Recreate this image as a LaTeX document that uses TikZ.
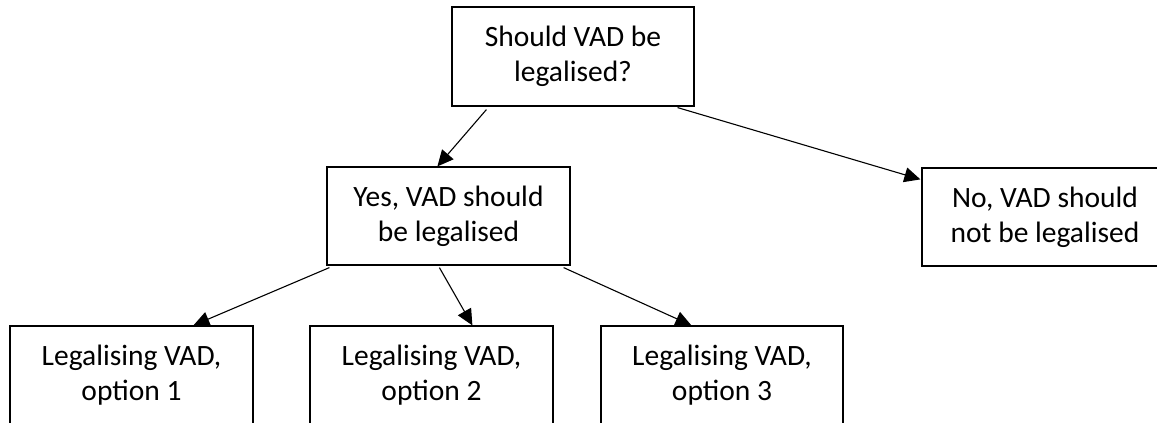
\documentclass[tikz,border=0pt]{standalone}
\usepackage{fontspec}
\setmainfont{Carlito}
\usetikzlibrary{arrows.meta}
\begin{document}
\begin{tikzpicture}[x=1pt,y=-1pt,
  box/.style={draw=black,line width=1.2pt,rectangle,inner sep=0pt,align=center,
    font=\fontsize{29.5pt}{35pt}\selectfont},
  link/.style={draw=black,line width=1.1pt,-{Triangle[length=16pt,width=15pt]}}]
\useasboundingbox (0,0) rectangle (1157,423);
\fill[white] (0,0) rectangle (1157,423);
\clip (0,0) rectangle (1157,423);
\node[box,minimum width=242pt,minimum height=99pt] (top) at (573,56.5) {Should VAD be\\legalised?};
\node[box,minimum width=243pt,minimum height=98pt] (yes) at (448.5,216) {Yes, VAD should\\be legalised};
\node[box,minimum width=246pt,minimum height=98pt] (no) at (1045,217) {No, VAD should\\not be legalised};
\node[box,minimum width=243pt,minimum height=99pt] (o1) at (131.5,375.5) {Legalising VAD,\\option 1};
\node[box,minimum width=243pt,minimum height=99pt] (o2) at (431.5,375.5) {Legalising VAD,\\option 2};
\node[box,minimum width=242pt,minimum height=99pt] (o3) at (722,375.5) {Legalising VAD,\\option 3};
\draw[link] ([xshift=35pt,yshift=-3pt]top.south west) -- ([xshift=111pt]yes.north west);
\draw[link] ([xshift=-17pt,yshift=-1pt]top.south east) -- ([xshift=-1pt,yshift=-12pt]no.north west);
\draw[link] ([xshift=3pt,yshift=-2pt]yes.south west) -- ([xshift=184pt]o1.north west);
\draw[link] ([xshift=113pt,yshift=-2pt]yes.south west) -- ([xshift=163pt]o2.north west);
\draw[link] ([xshift=-7pt,yshift=-2pt]yes.south east) -- ([xshift=91pt]o3.north west);
\end{tikzpicture}
\end{document}
